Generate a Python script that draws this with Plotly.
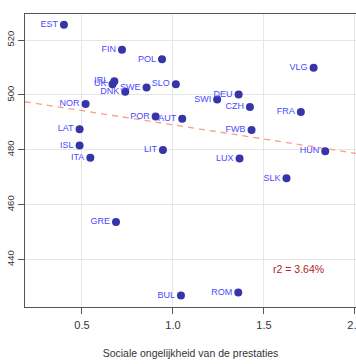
import numpy as np
import plotly.graph_objects as go

countries = ["EST", "FIN", "POL", "IRL", "UK", "DNK", "SWE", "SLO", "NOR", "POR", "AUT",
             "LAT", "ISL", "ITA", "LIT", "VLG", "DEU", "SWI", "CZH", "FRA", "FWB", "HUN",
             "LUX", "SLK", "GRE", "BUL", "ROM"]
inequality = [0.401, 0.720, 0.940, 0.678, 0.668, 0.738, 0.855, 1.016, 0.520, 0.905, 1.051,
              0.487, 0.487, 0.546, 0.945, 1.773, 1.361, 1.243, 1.423, 1.703, 1.432, 1.837,
              1.366, 1.624, 0.687, 1.044, 1.359]
performance = [525.6, 516.5, 513.0, 505.0, 503.9, 501.2, 502.7, 503.9, 496.7, 492.1, 491.3,
               487.5, 481.6, 477.1, 479.9, 509.9, 500.2, 498.3, 495.6, 493.8, 487.2, 479.5,
               476.8, 469.6, 453.7, 426.9, 428.0]
x_ticks = [0.5, 1.0, 1.5, 2.0]
y_ticks = [440, 460, 480, 500, 520]
r2_text = "r2 = 3.64%"
x_title = "Sociale ongelijkheid van de prestaties"

x_range = [0.187, 2.006]
y_range = [422.7, 529.5]

slope, intercept = np.polyfit(inequality, performance, 1)
fit_x = np.array(x_range)
fit_y = intercept + slope * fit_x

FONT = "Liberation Sans, Arial, sans-serif"

fig = go.Figure()
fig.add_trace(go.Scatter(
    x=fit_x, y=fit_y, mode="lines",
    line=dict(color="#f4a08a", width=1.3, dash="6px,5px"),
    hoverinfo="skip", showlegend=False, cliponaxis=True,
))
fig.add_trace(go.Scatter(
    x=inequality, y=performance, mode="markers+text",
    text=countries, textposition="middle left",
    textfont=dict(family=FONT, size=9, color="#4a4aff"),
    marker=dict(color="#3535a8", size=8),
    showlegend=False, cliponaxis=False,
))
fig.add_annotation(
    x=1.692, y=436.6, text=r2_text, showarrow=False,
    font=dict(family=FONT, size=10.5, color="#b22222"),
)

fig.update_layout(
    template="none",
    width=356, height=364,
    margin=dict(l=25, r=0, t=14, b=57, autoexpand=False),
    paper_bgcolor="white", plot_bgcolor="white",
    font=dict(family=FONT, size=10.5, color="#333333"),
    xaxis=dict(
        range=x_range, tickvals=x_ticks, ticktext=["0.5", "1.0", "1.5", "2.0"],
        showgrid=True, gridcolor="#e6e6e6", gridwidth=1,
        showline=True, linecolor="#555555", linewidth=1.3, mirror=True,
        ticks="outside", ticklen=6, tickcolor="#555555",
        ticklabelstandoff=2, ticklabeloverflow="allow",
        zeroline=False, automargin=False,
        tickfont=dict(family=FONT, size=11, color="#333333"),
        title=dict(text=x_title, font=dict(family=FONT, size=10.5, color="#333333"), standoff=19),
    ),
    yaxis=dict(
        range=y_range, tickvals=y_ticks,
        showgrid=True, gridcolor="#e6e6e6", gridwidth=1,
        showline=True, linecolor="#555555", linewidth=1.3, mirror=False,
        ticks="outside", ticklen=6, tickcolor="#555555",
        zeroline=False, tickangle=-90, automargin=False,
        tickfont=dict(family=FONT, size=9.5, color="#333333"),
    ),
)

fig.write_html("out.html", config={"displayModeBar": False},
               post_script="document.body.style.margin='0px';")
